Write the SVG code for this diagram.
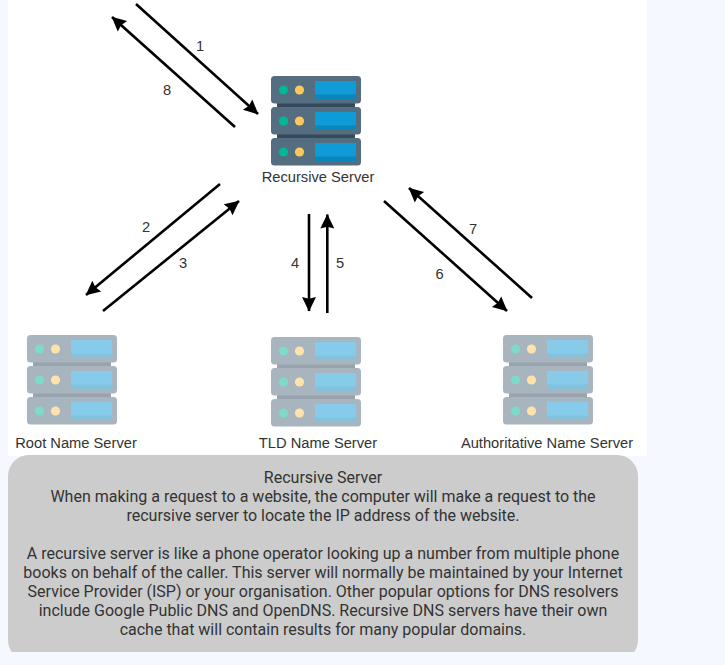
<svg xmlns="http://www.w3.org/2000/svg" width="725" height="665" viewBox="0 0 725 665">
<style>
.lbl{font-family:"Liberation Sans",Arial,sans-serif;font-size:14.7px;fill:#333;text-anchor:middle}
.num{font-family:"Liberation Sans",Arial,sans-serif;font-size:14.7px;fill:#333;text-anchor:middle}
.panel{font-family:Roboto,"Liberation Sans",sans-serif;font-size:16px;fill:#333;text-anchor:middle}
.arr{stroke:#000;stroke-width:2.6;fill:none;marker-end:url(#ah)}
.faded{opacity:.5}
</style>
<defs>
<marker id="ah" markerUnits="userSpaceOnUse" markerWidth="16" markerHeight="16" refX="14" refY="7.5" orient="auto" viewBox="0 0 16 15">
<path d="M0 0.5L14.5 7.5L0 14.5L1.8 7.5Z" fill="#000"/>
</marker>
<g id="srv">
<rect x="6" y="26" width="78" height="6" fill="#34495e"/>
<rect x="6" y="57" width="78" height="6" fill="#34495e"/>
<g id="unit">
<rect x="0" y="0" width="90" height="27.5" rx="3.5" fill="#546e7f"/>
<circle cx="12.5" cy="14" r="4.6" fill="#00b894"/>
<circle cx="28.5" cy="14" r="4.6" fill="#fdc75b"/>
<rect x="44" y="5" width="41" height="18" fill="#0f9bd7"/>
<rect x="44" y="18.5" width="41" height="4.5" fill="#0a86bb"/>
</g>
<use href="#unit" y="31"/>
<use href="#unit" y="62"/>
</g>
<clipPath id="panelclip"><rect x="0" y="440" width="725" height="212"/></clipPath>
</defs>
<rect width="725" height="665" fill="#f5f8ff"/>
<rect x="8" y="0" width="639" height="456" fill="#fff"/>
<g id="connectors">
<line class="arr" x1="136" y1="4" x2="258" y2="114"/>
<line class="arr" x1="235" y1="127" x2="112" y2="17"/>
<line class="arr" x1="220" y1="184" x2="86" y2="295"/>
<line class="arr" x1="103" y1="311" x2="239" y2="201"/>
<line class="arr" x1="309" y1="214" x2="309" y2="311"/>
<line class="arr" x1="327.3" y1="313" x2="327.3" y2="214.5"/>
<line class="arr" x1="384" y1="201" x2="507" y2="311"/>
<line class="arr" x1="532" y1="298" x2="409" y2="188"/>
<text class="num" x="200" y="51">1</text>
<text class="num" x="167" y="95">8</text>
<text class="num" x="146" y="232">2</text>
<text class="num" x="183" y="268">3</text>
<text class="num" x="295" y="268">4</text>
<text class="num" x="340" y="268">5</text>
<text class="num" x="439.5" y="279">6</text>
<text class="num" x="473" y="234">7</text>
</g>
<g id="recursive-server">
<use href="#srv" x="271" y="76"/>
<text class="lbl" x="318" y="182">Recursive Server</text>
</g>
<g id="root-name-server">
<use href="#srv" class="faded" x="27" y="335"/>
<text class="lbl" x="76" y="448">Root Name Server</text>
</g>
<g id="tld-name-server">
<use href="#srv" class="faded" x="271" y="337"/>
<text class="lbl" x="318" y="448">TLD Name Server</text>
</g>
<g id="authoritative-name-server">
<use href="#srv" class="faded" x="503" y="335"/>
<text class="lbl" x="547" y="448">Authoritative Name Server</text>
</g>
<g id="description">
<rect x="8" y="455" width="630" height="206" rx="21" fill="#ccc" clip-path="url(#panelclip)"/>
<text class="panel" x="323" y="483">Recursive Server</text>
<text class="panel" x="323" y="502">When making a request to a website, the computer will make a request to the</text>
<text class="panel" x="323" y="521">recursive server to locate the IP address of the website.</text>
<text class="panel" x="323" y="559">A recursive server is like a phone operator looking up a number from multiple phone</text>
<text class="panel" x="323" y="578">books on behalf of the caller. This server will normally be maintained by your Internet</text>
<text class="panel" x="323" y="597">Service Provider (ISP) or your organisation. Other popular options for DNS resolvers</text>
<text class="panel" x="323" y="616">include Google Public DNS and OpenDNS. Recursive DNS servers have their own</text>
<text class="panel" x="323" y="635">cache that will contain results for many popular domains.</text>
</g>
</svg>
